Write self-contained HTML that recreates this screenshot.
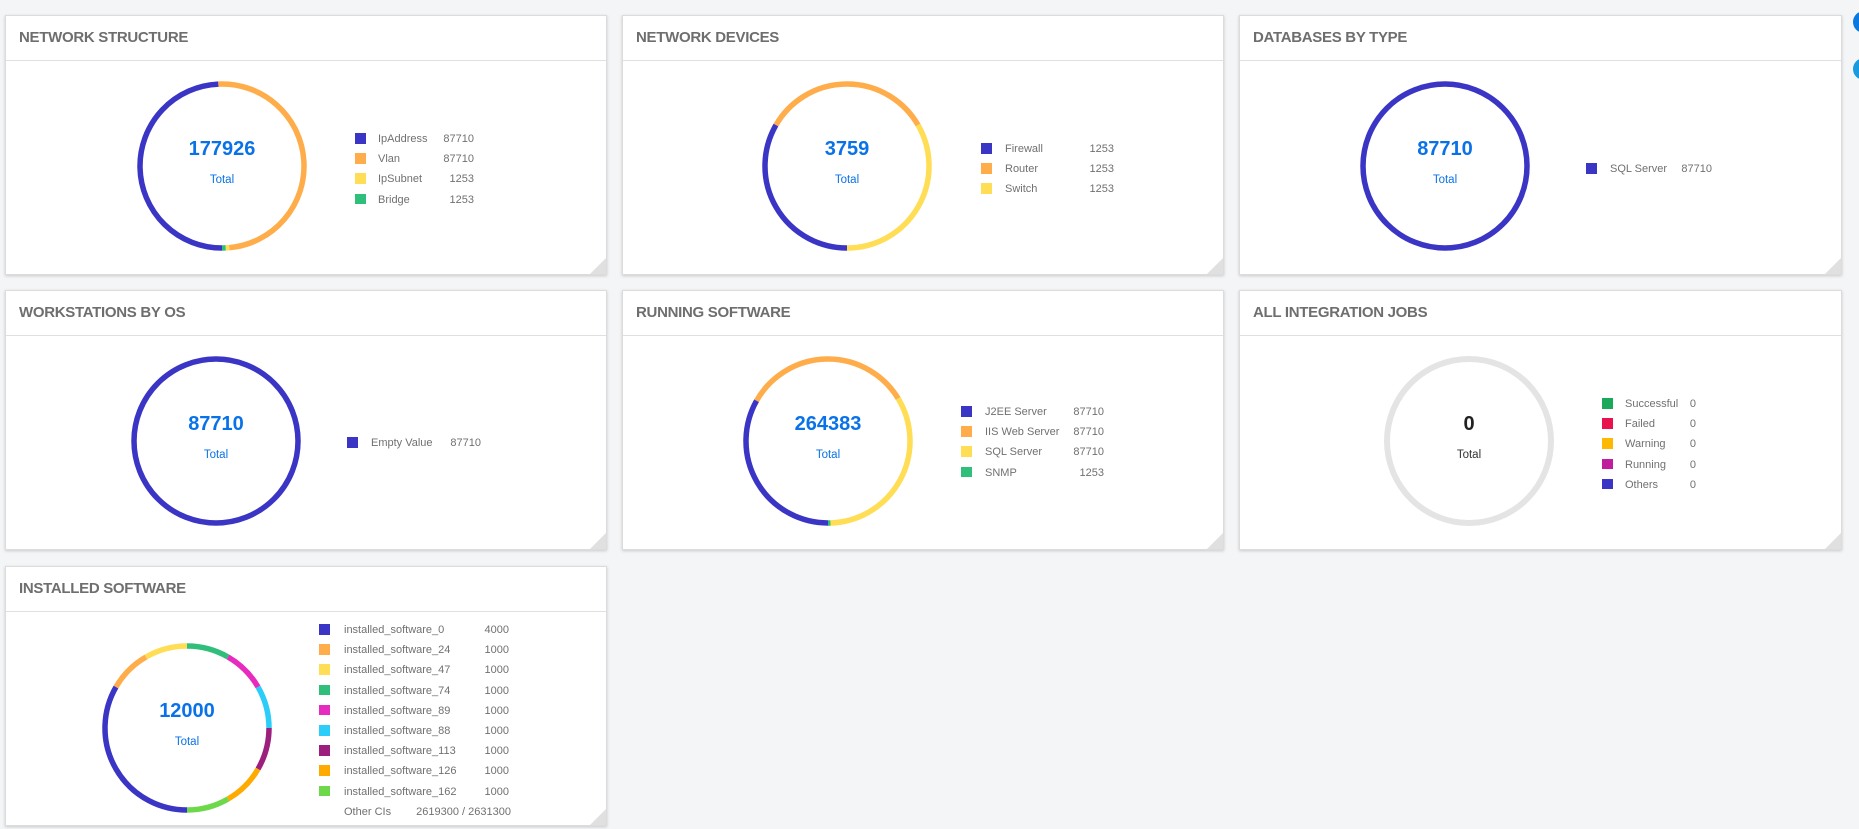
<!DOCTYPE html>
<html><head><meta charset="utf-8">
<style>
html,body{margin:0;padding:0}
body{width:1859px;height:829px;background:#f4f5f7;position:relative;overflow:hidden;font-family:"Liberation Sans",sans-serif}
.card{position:absolute;background:#fff;border:1px solid #dcdcdc;box-shadow:0 1px 3px rgba(0,0,0,.18);box-sizing:border-box}
.hdr{height:45px;border-bottom:1px solid #e0e0e0;box-sizing:border-box;padding-left:13px;line-height:44px;font-weight:bold;font-size:15px;color:#6e6e6e;letter-spacing:-0.3px}
.corner{position:absolute;right:0;bottom:0;width:0;height:0;border-left:16px solid transparent;border-bottom:16px solid #e0e0e0}
.lg{position:absolute;font-size:11px;color:#707070;white-space:nowrap;line-height:14px}
.sq{position:absolute;width:10.5px;height:10.5px}
.num{position:absolute;font-weight:bold;font-size:20px;color:#0a72e8;text-align:center;width:160px}
.tot{position:absolute;font-size:11.5px;color:#0a72e8;text-align:center;width:160px}
.dot{position:absolute;left:1853px;width:22px;height:22px;border-radius:50%;background:#0a78e0}
</style></head><body>
<div class="dot" style="top:11px"></div>
<div class="dot" style="top:58px;background:#1a9be0"></div>
<div id="root"></div>
<script>
const ns_labels=["IpAddress","Vlan","IpSubnet","Bridge"];
const ns_values=[87710,87710,1253,1253];
const nd_labels=["Firewall","Router","Switch"];
const nd_values=[1253,1253,1253];
const db_labels=["SQL Server"];
const db_values=[87710];
const ws_labels=["Empty Value"];
const ws_values=[87710];
const rs_labels=["J2EE Server","IIS Web Server","SQL Server","SNMP"];
const rs_values=[87710,87710,87710,1253];
const ij_labels=["Successful","Failed","Warning","Running","Others"];
const ij_values=[0,0,0,0,0];
const is_labels=["installed_software_0","installed_software_24","installed_software_47","installed_software_74","installed_software_89","installed_software_88","installed_software_113","installed_software_126","installed_software_162"];
const is_values=[4000,1000,1000,1000,1000,1000,1000,1000,1000];
const is_other="2619300 / 2631300";

const C1=["#3a35c4","#ffad4a","#ffdd55","#2fbf7a"];
const CIS=["#3a35c4","#ffad4a","#ffdd55","#2fbf7a","#e82bbf","#2ccdf8","#9c1f7e","#ffaa00","#6ed84b"];
const CIJ=["#1aa85a","#e8124d","#ffb800","#c01e9c","#3a35c4"];

const charts=[
 {id:"network-structure",t:"NETWORK STRUCTURE",x:5,y:15,L:ns_labels,V:ns_values,C:C1,cx:216,cy:150,sq:349,lab:372,end:470,ly:123},
 {id:"network-devices",t:"NETWORK DEVICES",x:622,y:15,L:nd_labels,V:nd_values,C:C1,cx:224,cy:150,sq:358,lab:382,end:493,ly:133},
 {id:"databases-by-type",t:"DATABASES BY TYPE",x:1239,y:15,L:db_labels,V:db_values,C:C1,cx:205,cy:150,sq:346,lab:370,end:473,ly:153},
 {id:"workstations-by-os",t:"WORKSTATIONS BY OS",x:5,y:290,L:ws_labels,V:ws_values,C:C1,cx:210,cy:150,sq:341,lab:365,end:477,ly:152},
 {id:"running-software",t:"RUNNING SOFTWARE",x:622,y:290,L:rs_labels,V:rs_values,C:C1,cx:205,cy:150,sq:338,lab:362,end:483,ly:121},
 {id:"integration-jobs",t:"ALL INTEGRATION JOBS",x:1239,y:290,L:ij_labels,V:ij_values,C:CIJ,cx:229,cy:150,sq:362,lab:385,end:457,ly:113,grey:true},
 {id:"installed-software",t:"INSTALLED SOFTWARE",x:5,y:566,L:is_labels,V:is_values,C:CIS,cx:181,cy:161,sq:313,lab:338,end:505,ly:63,other:is_other}
];
const root=document.getElementById('root');
const R=82,SW=5.5;
function pt(cx,cy,a){const r=a*Math.PI/180;return [cx+R*Math.sin(r),cy-R*Math.cos(r)];}
charts.forEach(c=>{
 const card=document.createElement('div');card.className='card';
 
 
 card.style.cssText=`left:${c.x}px;top:${c.y}px;width:${c.x>1000?603:602}px;height:260px`;
 const h=document.createElement('div');h.className='hdr';h.textContent=c.t;
 
 
 card.appendChild(h);
 const total=c.V.reduce((a,b)=>a+b,0);
 let svg=`<svg width="602" height="260" style="position:absolute;left:0;top:0" xmlns="http://www.w3.org/2000/svg">`;
 if(total===0){
  svg+=`<circle cx="${c.cx}" cy="${c.cy}" r="${R}" fill="none" stroke="#e4e4e4" stroke-width="${SW+0.5}"/>`;
 } else {
  let a=180;
  c.V.forEach((v,i)=>{
   const sweep=v/total*360;
   if(sweep>=359.99){svg+=`<circle cx="${c.cx}" cy="${c.cy}" r="${R}" fill="none" stroke="${c.C[i]}" stroke-width="${SW}"/>`;}
   else{
    const p1=pt(c.cx,c.cy,a),p2=pt(c.cx,c.cy,a+sweep);
    svg+=`<path d="M${p1[0]},${p1[1]} A${R},${R} 0 ${sweep>180?1:0} 1 ${p2[0]},${p2[1]}" fill="none" stroke="${c.C[i]}" stroke-width="${SW}"/>`;
   }
   a+=sweep;
  });
 }
 svg+='</svg>';
 const wrap=document.createElement('div');wrap.innerHTML=svg;
 
 
 card.appendChild(wrap);
 const n=document.createElement('div');n.className='num';n.textContent=total;
 
 
 n.style.left=(c.cx-80)+'px';n.style.top=(c.cy-28)+'px';
 if(c.grey)n.style.color='#222';
 card.appendChild(n);
 const t=document.createElement('div');t.className='tot';t.textContent='Total';
 
 
 t.style.left=(c.cx-80)+'px';t.style.top=(c.cy+8)+'px';
 if(c.grey)t.style.color='#333';
 card.appendChild(t);
 c.L.forEach((l,i)=>{
  const y=c.ly+i*20.2;
  const s=document.createElement('div');s.className='sq';
  
  
  s.style.cssText=`left:${c.sq}px;top:${y-6}px;background:${c.C[i]}`;
  card.appendChild(s);
  const lb=document.createElement('div');lb.className='lg';lb.textContent=l;
  
  
  lb.style.cssText=`left:${c.lab}px;top:${y-7}px`;
  card.appendChild(lb);
  const vv=document.createElement('div');vv.className='lg';vv.textContent=c.V[i];
  
  
  vv.style.cssText=`right:${602-c.end}px;top:${y-7}px;text-align:right`;
  card.appendChild(vv);
 });
 if(c.other){
  const y=c.ly+c.L.length*20.2;
  const o=document.createElement('div');o.className='lg';
  
  
  o.style.cssText=`left:${c.lab}px;top:${y-7}px;width:${c.end-c.lab+4}px`;
  o.innerHTML='Other CIs<span style="position:absolute;right:4px">'+c.other+'</span>';
  card.appendChild(o);
 }
 const co=document.createElement('div');co.className='corner';
 
 
 card.appendChild(co);
 root.appendChild(card);
});
</script>
</body></html>
